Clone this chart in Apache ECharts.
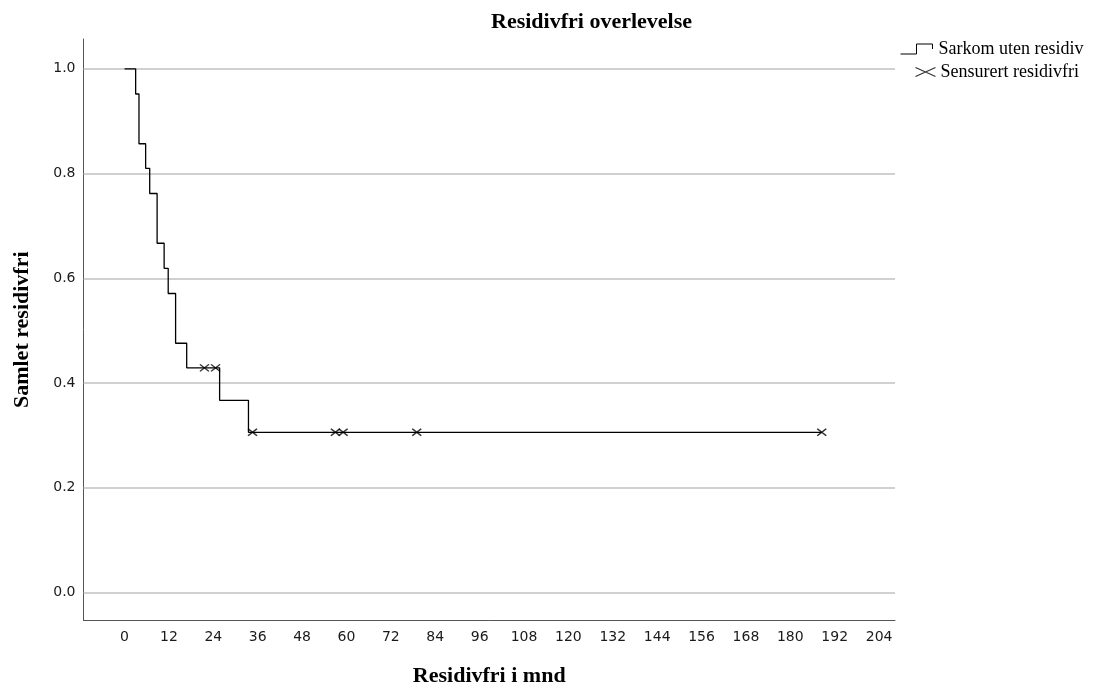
<!DOCTYPE html>
<html>
<head>
<meta charset="utf-8">
<script src="https://cdn.jsdelivr.net/npm/echarts@6/dist/echarts.min.js"></script>
<style>
html,body{margin:0;padding:0;background:#fff;}
#chart{width:1094px;height:689px;}
</style>
</head>
<body>
<div id="chart"></div>
<script>
// ---- data ----
const titleText = 'Residivfri overlevelse';
const xAxisName = 'Residivfri i mnd';
const yAxisName = 'Samlet residivfri';
const xTicks = [0, 12, 24, 36, 48, 60, 72, 84, 96, 108, 120, 132, 144, 156, 168, 180, 192, 204];
const yTicks = [0.0, 0.2, 0.4, 0.6, 0.8, 1.0];
// Kaplan-Meier step curve: time (months) and survival after each event
const eventTimes = [0, 3.0, 3.9, 5.7, 6.8, 8.8, 10.7, 11.8, 13.8, 16.8, 25.7, 33.5, 188.5];
const survival   = [1.0, 0.952, 0.857, 0.810, 0.762, 0.667, 0.619, 0.571, 0.476, 0.429, 0.367, 0.306, 0.306];
// censored observations
const censorTimes    = [21.6, 24.6, 34.6, 57.0, 59.1, 79.0, 188.5];
const censorSurvival = [0.429, 0.429, 0.306, 0.306, 0.306, 0.306, 0.306];
const seriesNames = ['Sarkom uten residiv', 'Sensurert residivfri'];

const chart = echarts.init(document.getElementById('chart'), null, {renderer: 'canvas'});

const serif = 'Liberation Serif';
const sans = 'DejaVu Sans';

const option = {
  animation: false,
  backgroundColor: '#fff',
  title: {
    text: titleText,
    left: 491,
    top: 11,
    padding: 0,
    textStyle: {fontFamily: serif, fontWeight: 'bold', fontSize: 22, color: '#000'}
  },
  legend: [
    {
      data: [{name: seriesNames[0], icon: 'path://M0,10 L16,10 L16,0 L32,0 L32,5'}],
      left: 898, top: 40, padding: 0, orient: 'vertical',
      itemWidth: 34, itemHeight: 10,
      selectedMode: false,
      itemStyle: {color: 'none', borderColor: '#000', borderWidth: 1},
      textStyle: {fontFamily: serif, fontSize: 18, color: '#000'}
    },
    {
      data: [{name: seriesNames[1], icon: 'path://M0,0 L20,9 M0,9 L20,0'}],
      left: 913, top: 63, padding: 0, orient: 'vertical',
      itemWidth: 20, itemHeight: 9,
      selectedMode: false,
      itemStyle: {color: 'none', borderColor: '#000', borderWidth: 1.2},
      textStyle: {fontFamily: serif, fontSize: 18, color: '#000'}
    }
  ],
  grid: {left: 83.5, right: 199, top: 39, bottom: 68.5, containLabel: false, outerBoundsMode: 'none'},
  xAxis: {
    type: 'value',
    min: -11.1,
    max: 208.3,
    name: xAxisName,
    nameLocation: 'middle',
    nameGap: 45,
    nameTextStyle: {fontFamily: serif, fontWeight: 'bold', fontSize: 22, color: '#000'},
    axisLine: {show: true, onZero: false, lineStyle: {color: '#555', width: 1}},
    axisTick: {show: false},
    splitLine: {show: false},
    axisLabel: {customValues: xTicks, margin: 10, fontFamily: sans, fontSize: 14, color: '#1a1a1a'}
  },
  yAxis: {
    type: 'value',
    min: -0.0534,
    max: 1.057,
    name: yAxisName,
    nameLocation: 'middle',
    nameRotate: 90,
    nameGap: 50,
    nameTextStyle: {fontFamily: serif, fontWeight: 'bold', fontSize: 22, color: '#000'},
    axisLine: {show: true, onZero: false, lineStyle: {color: '#555', width: 1}},
    axisTick: {show: false},
    splitLine: {show: false},
    axisLabel: {
      customValues: yTicks, margin: 8, fontFamily: sans, fontSize: 14, color: '#1a1a1a',
      formatter: v => v.toFixed(1)
    }
  },
  series: [
    {
      name: seriesNames[0],
      type: 'line',
      step: 'end',
      symbol: 'none',
      z: 3,
      lineStyle: {color: '#000', width: 1.3},
      itemStyle: {color: '#000'},
      data: eventTimes.map((t, i) => [t, survival[i]]),
      markLine: {
        silent: true,
        z: 1,
        symbol: ['none', 'none'],
        label: {show: false},
        lineStyle: {color: '#c0c0c0', type: 'solid', width: 1.5},
        emphasis: {disabled: true},
        data: yTicks.map(v => ({yAxis: v}))
      }
    },
    {
      name: seriesNames[1],
      type: 'scatter',
      z: 4,
      symbol: 'path://M0,0 L10,8 M0,8 L10,0',
      symbolSize: [9, 7],
      itemStyle: {color: 'none', borderColor: '#000', borderWidth: 1.4},
      data: censorTimes.map((t, i) => [t, censorSurvival[i]])
    }
  ]
};

chart.setOption(option);
</script>
</body>
</html>
